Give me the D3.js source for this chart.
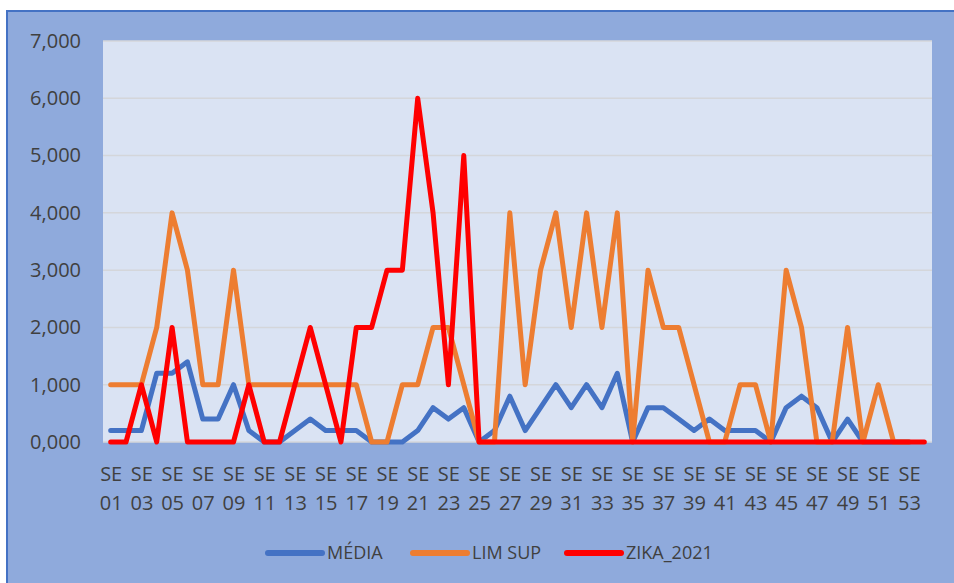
<!DOCTYPE html>
<html>
<head>
<meta charset="utf-8">
<script src="https://cdn.jsdelivr.net/npm/d3@7"></script>
<style>
  html, body { margin: 0; padding: 0; background: #ffffff; }
  svg { display: block; }
  text { font-family: "Open Sans", "Noto Sans", sans-serif; fill: #404040; }
</style>
</head>
<body>
<div id="chart"></div>
<script>
// weeks SE 01 .. SE 54 (only odd ones get a label)
const weeks = d3.range(1, 55).map(d => 'SE ' + String(d).padStart(2, '0'));
const yTicks = [0, 1000, 2000, 3000, 4000, 5000, 6000, 7000];

const media = [200, 200, 200, 1200, 1200, 1400, 400, 400, 1000, 200,
   0, 0, 200, 400, 200, 200, 200, 0, 0, 0,
   200, 600, 400, 600, 0, 200, 800, 200, 600, 1000,
   600, 1000, 600, 1200, 0, 600, 600, 400, 200, 400,
   200, 200, 200, 0, 600, 800, 600, 0, 400, 0,
   0, 0, 0, null];

const limSup = [1000, 1000, 1000, 2000, 4000, 3000, 1000, 1000, 3000, 1000,
   1000, 1000, 1000, 1000, 1000, 1000, 1000, 0, 0, 1000,
   1000, 2000, 2000, 1000, 0, 0, 4000, 1000, 3000, 4000,
   2000, 4000, 2000, 4000, 0, 3000, 2000, 2000, 1000, 0,
   0, 1000, 1000, 0, 3000, 2000, 0, 0, 2000, 0,
   1000, 0, 0, null];

const zika = [0, 0, 1000, 0, 2000, 0, 0, 0, 0, 1000,
   0, 0, 1000, 2000, 1000, 0, 2000, 2000, 3000, 3000,
   6000, 4000, 1000, 5000, 0, 0, 0, 0, 0, 0,
   0, 0, 0, 0, 0, 0, 0, 0, 0, 0,
   0, 0, 0, 0, 0, 0, 0, 0, 0, 0,
   0, 0, 0, 0];

const series = [
   { name: 'MÉDIA', values: media, color: '#4472c4' },
   { name: 'LIM SUP', values: limSup, color: '#ed7d31' },
   { name: 'ZIKA_2021', values: zika, color: '#ff0000' },
];

const width = 954, height = 583;
const plot = { left: 103, top: 41, right: 932, bottom: 442 };

const svg = d3.select('#chart').append('svg')
   .attr('width', width)
   .attr('height', height);

// chart area
svg.append('rect')
   .attr('x', 7).attr('y', 11)
   .attr('width', width + 10).attr('height', height + 10)
   .attr('fill', '#8faadc')
   .attr('stroke', '#4472c4')
   .attr('stroke-width', 2);

// plot area
svg.append('rect')
   .attr('x', plot.left).attr('y', plot.top)
   .attr('width', plot.right - plot.left).attr('height', plot.bottom - plot.top)
   .attr('fill', '#dae3f3');

const x = d3.scalePoint()
   .domain(weeks)
   .range([plot.left, plot.right])
   .padding(0.5);

const y = d3.scaleLinear()
   .domain([0, 7000])
   .range([plot.bottom, plot.top]);

const fmt = v => d3.format(',.3f')(v / 1000).replace('.', ',');

// gridlines
svg.append('g')
   .selectAll('line')
   .data(yTicks)
   .join('line')
   .attr('x1', plot.left).attr('x2', plot.right)
   .attr('y1', d => y(d)).attr('y2', d => y(d))
   .attr('stroke', '#d4d6da')
   .attr('stroke-width', 1.5);

// y axis labels
const yAxis = svg.append('g')
   .attr('transform', `translate(${plot.left},0)`)
   .call(d3.axisLeft(y).tickValues(yTicks).tickFormat(fmt).tickSize(0).tickPadding(22));
yAxis.select('.domain').remove();
yAxis.selectAll('text')
   .attr('font-size', 20)
   .style('font-family', '"Open Sans", sans-serif')
   .attr('fill', '#404040');

// x axis labels, two lines, every other week
const xAxis = svg.append('g')
   .attr('transform', `translate(0,${plot.bottom})`)
   .call(d3.axisBottom(x).tickValues(weeks.filter((d, i) => i % 2 === 0)).tickSize(0));
xAxis.select('.domain').remove();
xAxis.selectAll('text').each(function (d) {
   const t = d3.select(this).text('').attr('y', 0).attr('dy', null)
      .attr('font-size', 20)
      .style('font-family', '"Open Sans", sans-serif')
      .attr('fill', '#404040');
   const parts = d.split(' ');
   t.append('tspan').attr('x', 0).attr('y', 39).text(parts[0]);
   t.append('tspan').attr('x', 0).attr('y', 68).text(parts[1]);
});

// lines
const line = d3.line()
   .defined(d => d.v !== null)
   .x(d => x(d.w))
   .y(d => y(d.v));

svg.append('g')
   .selectAll('path')
   .data(series)
   .join('path')
   .attr('d', s => line(s.values.map((v, i) => ({ w: weeks[i], v: v }))))
   .attr('fill', 'none')
   .attr('stroke', s => s.color)
   .attr('stroke-width', 5)
   .attr('stroke-linejoin', 'round')
   .attr('stroke-linecap', 'round');

// legend
const legendX = [268, 413, 567];
const legend = svg.append('g')
   .selectAll('g')
   .data(series)
   .join('g')
   .attr('transform', (d, i) => `translate(${legendX[i]},553)`);
legend.append('line')
   .attr('x1', 0).attr('x2', 54)
   .attr('stroke', d => d.color)
   .attr('stroke-width', 6)
   .attr('stroke-linecap', 'round');
legend.append('text')
   .attr('x', 59).attr('y', 6)
   .attr('font-size', 18)
   .text(d => d.name);
</script>
</body>
</html>
